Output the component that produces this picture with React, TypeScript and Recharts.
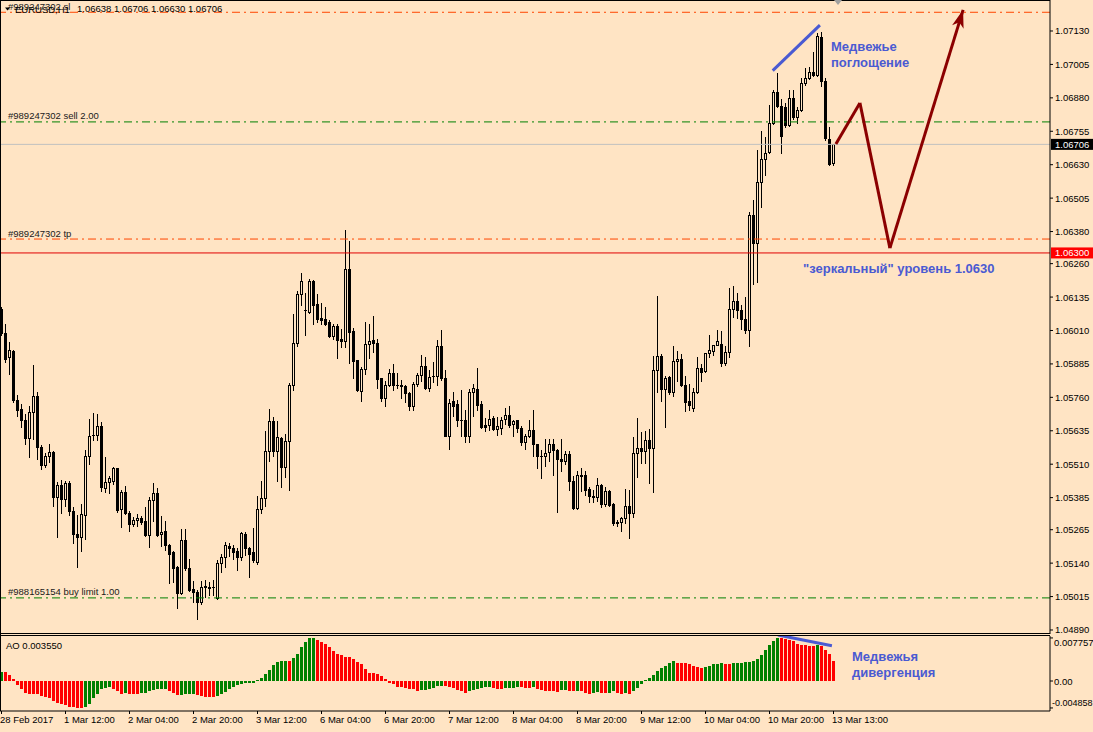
import React from 'react';
import { ComposedChart, Bar, Cell, XAxis, YAxis, ReferenceLine, ReferenceDot } from 'recharts';

// EURUSD H1, 28 Feb – 13 Mar 2017, one entry per bar
const OPEN = [
  1.06092, 1.05999, 1.05911, 1.05932, 1.05749, 1.05717, 1.05676, 1.05607, 1.05705, 1.05766,
  1.05576, 1.05507, 1.05541, 1.05556, 1.05386, 1.05432, 1.05380, 1.05439, 1.05336, 1.05249,
  1.05236, 1.05320, 1.05539, 1.05620, 1.05620, 1.05651, 1.05421, 1.05443, 1.05449, 1.05494,
  1.05342, 1.05407, 1.05329, 1.05286, 1.05301, 1.05310, 1.05296, 1.05246, 1.05377, 1.05404,
  1.05249, 1.05261, 1.05209, 1.05182, 1.05126, 1.05030, 1.05227, 1.05121, 1.05044, 1.05032,
  1.04995, 1.05051, 1.05048, 1.05051, 1.05011, 1.05139, 1.05164, 1.05204, 1.05195, 1.05185,
  1.05164, 1.05249, 1.05195, 1.05180, 1.05146, 1.05342, 1.05383, 1.05561, 1.05673, 1.05561,
  1.05608, 1.05501, 1.05596, 1.05807, 1.05964, 1.06146, 1.06086, 1.06079, 1.06194, 1.06108,
  1.06056, 1.06054, 1.06041, 1.05989, 1.06026, 1.05977, 1.05971, 1.06239, 1.06007, 1.05898,
  1.05783, 1.05867, 1.05961, 1.05973, 1.05964, 1.05831, 1.05757, 1.05807, 1.05852, 1.05807,
  1.05808, 1.05804, 1.05778, 1.05729, 1.05811, 1.05845, 1.05879, 1.05795, 1.05839, 1.05839,
  1.05951, 1.05834, 1.05617, 1.05745, 1.05734, 1.05676, 1.05676, 1.05615, 1.05781, 1.05792,
  1.05734, 1.05655, 1.05655, 1.05682, 1.05641, 1.05646, 1.05680, 1.05695, 1.05661, 1.05674,
  1.05646, 1.05592, 1.05615, 1.05639, 1.05584, 1.05542, 1.05540, 1.05554, 1.05586, 1.05564,
  1.05530, 1.05521, 1.05549, 1.05449, 1.05346, 1.05471, 1.05471, 1.05417, 1.05392, 1.05386,
  1.05434, 1.05361, 1.05411, 1.05361, 1.05293, 1.05293, 1.05309, 1.05353, 1.05326, 1.05553,
  1.05572, 1.05559, 1.05601, 1.05572, 1.05861, 1.05915, 1.05790, 1.05836, 1.05780, 1.05895,
  1.05905, 1.05808, 1.05745, 1.05720, 1.05781, 1.05868, 1.05859, 1.05924, 1.05934, 1.05957,
  1.05961, 1.05889, 1.05930, 1.06090, 1.06121, 1.06086, 1.06052, 1.06011, 1.06442, 1.06336,
  1.06565, 1.06652, 1.06677, 1.06786, 1.06900, 1.06849, 1.06846, 1.06777, 1.06881, 1.06809,
  1.06834, 1.06934, 1.06956, 1.06977, 1.06965, 1.07106, 1.06942, 1.06727, 1.06638,
];
const HIGH = [
  1.06099, 1.06036, 1.05967, 1.05936, 1.05767, 1.05736, 1.05696, 1.05726, 1.05880, 1.05780,
  1.05583, 1.05551, 1.05586, 1.05560, 1.05445, 1.05451, 1.05449, 1.05446, 1.05351, 1.05321,
  1.05361, 1.05564, 1.05680, 1.05701, 1.05699, 1.05667, 1.05536, 1.05464, 1.05499, 1.05497,
  1.05414, 1.05430, 1.05336, 1.05311, 1.05324, 1.05317, 1.05351, 1.05389, 1.05439, 1.05421,
  1.05317, 1.05299, 1.05211, 1.05185, 1.05128, 1.05267, 1.05266, 1.05155, 1.05074, 1.05040,
  1.05074, 1.05076, 1.05070, 1.05076, 1.05153, 1.05176, 1.05220, 1.05214, 1.05207, 1.05195,
  1.05257, 1.05257, 1.05201, 1.05270, 1.05392, 1.05448, 1.05633, 1.05717, 1.05686, 1.05673,
  1.05610, 1.05623, 1.05813, 1.06071, 1.06158, 1.06226, 1.06151, 1.06201, 1.06198, 1.06146,
  1.06113, 1.06096, 1.06048, 1.06036, 1.06033, 1.06017, 1.06386, 1.06346, 1.06021, 1.05900,
  1.05873, 1.06042, 1.06033, 1.06063, 1.05979, 1.05833, 1.05821, 1.05867, 1.05886, 1.05851,
  1.05823, 1.05808, 1.05780, 1.05817, 1.05852, 1.05917, 1.05911, 1.05861, 1.05892, 1.05976,
  1.06011, 1.05864, 1.05755, 1.05779, 1.05749, 1.05786, 1.05711, 1.05792, 1.05811, 1.05871,
  1.05745, 1.05682, 1.05714, 1.05689, 1.05686, 1.05686, 1.05719, 1.05726, 1.05676, 1.05676,
  1.05651, 1.05624, 1.05676, 1.05714, 1.05586, 1.05564, 1.05605, 1.05605, 1.05605, 1.05566,
  1.05605, 1.05561, 1.05561, 1.05467, 1.05486, 1.05496, 1.05486, 1.05426, 1.05414, 1.05459,
  1.05436, 1.05426, 1.05414, 1.05364, 1.05301, 1.05311, 1.05418, 1.05414, 1.05612, 1.05683,
  1.05630, 1.05636, 1.05643, 1.05914, 1.06139, 1.05921, 1.05839, 1.05839, 1.05951, 1.05934,
  1.05921, 1.05839, 1.05809, 1.05796, 1.05909, 1.05884, 1.05926, 1.05993, 1.05955, 1.06011,
  1.06008, 1.05951, 1.06170, 1.06177, 1.06152, 1.06106, 1.06136, 1.06452, 1.06499, 1.06684,
  1.06755, 1.06734, 1.06855, 1.06909, 1.06974, 1.06877, 1.06859, 1.06911, 1.06911, 1.06844,
  1.06956, 1.06990, 1.06996, 1.07052, 1.07121, 1.07127, 1.06956, 1.06771, 1.06706,
];
const LOW = [
  1.05992, 1.05892, 1.05849, 1.05742, 1.05692, 1.05649, 1.05586, 1.05536, 1.05605, 1.05530,
  1.05492, 1.05498, 1.05517, 1.05355, 1.05236, 1.05326, 1.05355, 1.05321, 1.05217, 1.05124,
  1.05186, 1.05232, 1.05511, 1.05602, 1.05599, 1.05411, 1.05405, 1.05401, 1.05436, 1.05330,
  1.05274, 1.05324, 1.05261, 1.05280, 1.05280, 1.05286, 1.05242, 1.05202, 1.05299, 1.05242,
  1.05205, 1.05189, 1.05065, 1.05070, 1.04971, 1.05024, 1.05114, 1.05036, 1.04996, 1.04930,
  1.04986, 1.05013, 1.05020, 1.05020, 1.05007, 1.05107, 1.05126, 1.05166, 1.05157, 1.05116,
  1.05153, 1.05170, 1.05089, 1.05145, 1.05138, 1.05329, 1.05354, 1.05523, 1.05542, 1.05448,
  1.05423, 1.05461, 1.05413, 1.05788, 1.05952, 1.06104, 1.05992, 1.06076, 1.06033, 1.06042,
  1.06036, 1.06029, 1.05986, 1.05979, 1.05908, 1.05948, 1.05948, 1.05888, 1.05833, 1.05783,
  1.05748, 1.05848, 1.05908, 1.05929, 1.05796, 1.05748, 1.05729, 1.05804, 1.05788, 1.05796,
  1.05758, 1.05742, 1.05711, 1.05711, 1.05802, 1.05821, 1.05790, 1.05784, 1.05817, 1.05805,
  1.05826, 1.05614, 1.05565, 1.05692, 1.05651, 1.05614, 1.05592, 1.05592, 1.05689, 1.05711,
  1.05646, 1.05636, 1.05639, 1.05639, 1.05621, 1.05624, 1.05661, 1.05649, 1.05615, 1.05630,
  1.05580, 1.05565, 1.05611, 1.05542, 1.05495, 1.05457, 1.05502, 1.05521, 1.05471, 1.05330,
  1.05486, 1.05511, 1.05415, 1.05343, 1.05343, 1.05411, 1.05396, 1.05367, 1.05367, 1.05374,
  1.05349, 1.05355, 1.05352, 1.05282, 1.05280, 1.05261, 1.05289, 1.05233, 1.05311, 1.05461,
  1.05514, 1.05514, 1.05439, 1.05405, 1.05780, 1.05746, 1.05649, 1.05774, 1.05764, 1.05822,
  1.05801, 1.05709, 1.05711, 1.05708, 1.05778, 1.05822, 1.05855, 1.05911, 1.05918, 1.05954,
  1.05876, 1.05880, 1.05910, 1.06059, 1.06056, 1.06015, 1.06002, 1.05952, 1.06184, 1.06190,
  1.06471, 1.06590, 1.06674, 1.06781, 1.06845, 1.06674, 1.06771, 1.06773, 1.06802, 1.06786,
  1.06831, 1.06927, 1.06952, 1.06961, 1.06961, 1.06924, 1.06724, 1.06627, 1.06630,
];
const CLOSE = [
  1.05999, 1.05905, 1.05936, 1.05749, 1.05714, 1.05674, 1.05609, 1.05707, 1.05766, 1.05576,
  1.05507, 1.05542, 1.05556, 1.05386, 1.05432, 1.05380, 1.05439, 1.05336, 1.05249, 1.05236,
  1.05324, 1.05539, 1.05617, 1.05621, 1.05651, 1.05424, 1.05445, 1.05457, 1.05494, 1.05340,
  1.05407, 1.05326, 1.05286, 1.05302, 1.05310, 1.05292, 1.05246, 1.05377, 1.05404, 1.05245,
  1.05257, 1.05209, 1.05176, 1.05121, 1.05030, 1.05227, 1.05120, 1.05040, 1.05032, 1.04995,
  1.05051, 1.05054, 1.05050, 1.05049, 1.05141, 1.05164, 1.05207, 1.05195, 1.05180, 1.05164,
  1.05251, 1.05195, 1.05176, 1.05151, 1.05342, 1.05383, 1.05561, 1.05673, 1.05561, 1.05613,
  1.05501, 1.05596, 1.05808, 1.05964, 1.06146, 1.06194, 1.06087, 1.06194, 1.06104, 1.06053,
  1.06051, 1.06036, 1.05989, 1.06026, 1.05976, 1.05971, 1.06239, 1.06004, 1.05896, 1.05786,
  1.05867, 1.05961, 1.05969, 1.05963, 1.05828, 1.05757, 1.05808, 1.05852, 1.05807, 1.05808,
  1.05802, 1.05776, 1.05729, 1.05811, 1.05844, 1.05879, 1.05795, 1.05836, 1.05840, 1.05951,
  1.05832, 1.05617, 1.05740, 1.05729, 1.05676, 1.05674, 1.05615, 1.05779, 1.05794, 1.05731,
  1.05649, 1.05649, 1.05680, 1.05641, 1.05651, 1.05677, 1.05695, 1.05655, 1.05670, 1.05645,
  1.05592, 1.05617, 1.05639, 1.05584, 1.05540, 1.05540, 1.05552, 1.05586, 1.05564, 1.05530,
  1.05521, 1.05549, 1.05446, 1.05346, 1.05471, 1.05466, 1.05415, 1.05390, 1.05386, 1.05434,
  1.05361, 1.05411, 1.05359, 1.05290, 1.05290, 1.05309, 1.05353, 1.05326, 1.05553, 1.05572,
  1.05559, 1.05599, 1.05572, 1.05864, 1.05915, 1.05793, 1.05834, 1.05780, 1.05895, 1.05903,
  1.05805, 1.05743, 1.05730, 1.05781, 1.05868, 1.05855, 1.05924, 1.05936, 1.05954, 1.05969,
  1.05889, 1.05930, 1.06090, 1.06121, 1.06086, 1.06052, 1.06011, 1.06442, 1.06336, 1.06565,
  1.06652, 1.06675, 1.06786, 1.06900, 1.06849, 1.06737, 1.06777, 1.06881, 1.06809, 1.06834,
  1.06934, 1.06956, 1.06977, 1.06965, 1.07111, 1.06942, 1.06731, 1.06631, 1.06706,
];

// Awesome Oscillator, same bars
const AO = [
  0.00170, 0.00168, 0.00113, 0.00038, -0.00076, -0.00151, -0.00224, -0.00228, -0.00231, -0.00234,
  -0.00277, -0.00280, -0.00302, -0.00353, -0.00397, -0.00416, -0.00435, -0.00460, -0.00470, -0.00480,
  -0.004858, -0.00473, -0.00410, -0.00315, -0.00227, -0.00151, -0.00126, -0.00113, -0.00151, -0.00189,
  -0.00227, -0.00214, -0.00229, -0.00231, -0.00233, -0.00215, -0.00208, -0.00189, -0.00170, -0.00151,
  -0.00147, -0.00140, -0.00176, -0.00214, -0.00246, -0.00244, -0.00242, -0.00240, -0.00238, -0.00250,
  -0.00265, -0.00283, -0.00290, -0.00292, -0.00265, -0.00227, -0.00202, -0.00151, -0.00113, -0.00076,
  -0.00057, -0.00038, -0.00036, -0.00034, 0.00019, 0.00057, 0.00120, 0.00195, 0.00284, 0.00340,
  0.00359, 0.00361, 0.00358, 0.00416, 0.00491, 0.00605, 0.00699, 0.00770, 0.007757, 0.00737,
  0.00699, 0.00662, 0.00611, 0.00548, 0.00485, 0.00460, 0.00435, 0.00432, 0.00397, 0.00347,
  0.00302, 0.00208, 0.00151, 0.00139, 0.00120, 0.00088, 0.00038, -0.00032, -0.00063, -0.00107,
  -0.00113, -0.00126, -0.00139, -0.00151, -0.00183, -0.00170, -0.00168, -0.00151, -0.00132, -0.00095,
  -0.00093, -0.00096, -0.00113, -0.00132, -0.00170, -0.00189, -0.00208, -0.00189, -0.00170, -0.00151,
  -0.00132, -0.00113, -0.00111, -0.00132, -0.00151, -0.00153, -0.00135, -0.00133, -0.00131, -0.00113,
  -0.00115, -0.00132, -0.00134, -0.00113, -0.00151, -0.00170, -0.00172, -0.00174, -0.00189, -0.00191,
  -0.00170, -0.00168, -0.00172, -0.00189, -0.00172, -0.00189, -0.00208, -0.00227, -0.00208, -0.00206,
  -0.00208, -0.00210, -0.00208, -0.00189, -0.00208, -0.00227, -0.00225, -0.00230, -0.00189, -0.00132,
  -0.00057, 0.00019, 0.00057, 0.00113, 0.00189, 0.00227, 0.00265, 0.00321, 0.00359, 0.00321,
  0.00319, 0.00317, 0.00302, 0.00265, 0.00246, 0.00227, 0.00246, 0.00265, 0.00302, 0.00304,
  0.00321, 0.00302, 0.00300, 0.00321, 0.00323, 0.00325, 0.00340, 0.00342, 0.00359, 0.00397,
  0.00472, 0.00567, 0.00643, 0.00718, 0.00775, 0.00772, 0.00756, 0.00737, 0.00718, 0.00662,
  0.00643, 0.00641, 0.00639, 0.00637, 0.00640, 0.00636, 0.00567, 0.00491, 0.00355,
];

const PRICE_TICKS = [
  1.07130, 1.07005, 1.06880, 1.06755, 1.06630, 1.06505, 1.06380, 1.06260, 1.06135, 1.06010,
  1.05885, 1.05760, 1.05635, 1.05510, 1.05385, 1.05265, 1.05140, 1.05015, 1.04890,
];
const AO_TICKS = [0.007757, 0, -0.004858];
const TIME_LABELS = [
  '28 Feb 2017', '1 Mar 12:00', '2 Mar 04:00', '2 Mar 20:00', '3 Mar 12:00', '6 Mar 04:00', '6 Mar 20:00',
  '7 Mar 12:00', '8 Mar 04:00', '8 Mar 20:00', '9 Mar 12:00', '10 Mar 04:00', '10 Mar 20:00', '13 Mar 13:00',
];
const TIME_TICKS = [0, 16, 32, 48, 64, 80, 96, 112, 128, 144, 160, 176, 192, 208];

// order lines and levels
const SL_LEVEL = 1.072;
const SELL_LEVEL = 1.0679;
const BID = 1.06706;
const TP_LEVEL = 1.06352;
const MIRROR_LEVEL = 1.063;
const BUY_LIMIT_LEVEL = 1.0501;

// hand-drawn objects, in bar index / price
const ENGULF_LINE = [{ x: 192.8, y: 1.06982 }, { x: 204.6, y: 1.07152 }];
const FORECAST = [
  { x: 208.6, y: 1.06707 },
  { x: 214.6, y: 1.06861 },
  { x: 222.1, y: 1.06318 },
  { x: 240.4, y: 1.07209 },
];
const DIVERGENCE_LINE = [{ x: 194.1, y: 0.00829 }, { x: 207.6, y: 0.00636 }];

const FONT = "'Liberation Sans', Arial, sans-serif";
const BG = '#FFE4C4';
const NOTE = '#4a5ad2';
const DASHDOT = '8 4 2 4';
const X_DOMAIN = [-0.375, 262.125];
const PRICE_DOMAIN = [1.04875, 1.072459];
const AO_DOMAIN = [-0.005405, 0.008108];

const candles = OPEN.map((o, i) => ({
  i,
  o,
  h: HIGH[i],
  l: LOW[i],
  c: CLOSE[i],
  range: [LOW[i], HIGH[i]],
}));
const aoData = AO.map((v, i) => ({ i, ao: v }));

function Candle(props: any) {
  const { x, y, width, height, payload } = props;
  if (x == null || y == null || !payload) return null;
  const top = Math.min(y, y + height);
  const span = Math.abs(height);
  const { o, h, l, c } = payload;
  const toY = (v: number) => (h > l ? top + ((h - v) / (h - l)) * span : top);
  const cx = Math.floor(x + width / 2) + 0.5;
  const yH = Math.round(toY(h));
  const yL = Math.round(toY(l));
  const bTop = Math.round(Math.min(toY(o), toY(c)));
  const bBot = Math.round(Math.max(toY(o), toY(c)));
  return (
    <g>
      <line x1={cx} x2={cx} y1={yH} y2={yL + 1} stroke="#000" strokeWidth={1} />
      {bBot - bTop < 1 ? (
        <line x1={cx - 1.5} x2={cx + 1.5} y1={bTop + 0.5} y2={bTop + 0.5} stroke="#000" strokeWidth={1} />
      ) : (
        <rect x={cx - 1} y={bTop + 0.5} width={2} height={bBot - bTop} fill={c > o ? BG : '#000'} stroke="#000" strokeWidth={1} />
      )}
    </g>
  );
}

function AoBar(props: any) {
  const { x, y, width, height, fill } = props;
  if (x == null || y == null || !height) return null;
  const cx = Math.floor(x + width / 2);
  const top = Math.round(Math.min(y, y + height));
  const bot = Math.round(Math.max(y, y + height));
  return <rect x={cx - 1} y={top} width={3} height={Math.max(bot - top, 1)} fill={fill} />;
}

function PriceTick(props: any) {
  const { x, y, payload } = props;
  return (
    <text x={x} y={y + 3.5} fontSize={9.5} fontFamily={FONT} fill="#000">
      {Number(payload.value).toFixed(5)}
    </text>
  );
}

function AoTick(props: any) {
  const { x, y, payload } = props;
  const v = Number(payload.value);
  const nudge = v > 0 ? 5 : v < 0 ? -5 : 0;
  return (
    <text x={v < 0 ? x - 3 : x - 1} y={y + 3.5 + nudge} fontSize={v < 0 ? 9 : 9.5} fontFamily={FONT} fill="#000">
      {v === 0 ? '0.00' : v.toFixed(6)}
    </text>
  );
}

function TimeTick(props: any) {
  const { x, y, payload } = props;
  const k = TIME_TICKS.indexOf(Number(payload.value));
  return (
    <text x={x - 1.5} y={y + 7} fontSize={9.5} fontFamily={FONT} fill="#000">
      {TIME_LABELS[k]}
    </text>
  );
}

const orderLabel = (text: string) => (props: any) => {
  const vb = props.viewBox || {};
  return (
    <text x={(vb.x ?? 0) + 8} y={(vb.y ?? 0) - 2.5} fontSize={9.5} fontFamily={FONT} fill="#1a1a1a">
      {text}
    </text>
  );
};

const priceBox = (text: string, bg: string) => (props: any) => {
  const vb = props.viewBox || {};
  const right = (vb.x ?? 0) + (vb.width ?? 0);
  const y = vb.y ?? 0;
  return (
    <g>
      <rect x={right + 1} y={y - 5.5} width={43} height={11} fill={bg} />
      <text x={right + 5} y={y + 3.5} fontSize={9.5} fontFamily={FONT} fill="#fff">
        {text}
      </text>
    </g>
  );
};

function ArrowHead(props: any) {
  const { cx, cy } = props;
  if (cx == null || cy == null) return null;
  return (
    <polygon
      points="0,0 -6,18 0,13 6,18"
      fill="#8b0000"
      transform={`translate(${cx},${cy}) rotate(17)`}
    />
  );
}

export default function App() {
  return (
    <div style={{ position: 'fixed', left: 0, top: 0, width: 1093, height: 732, background: BG, overflow: 'hidden' }}>
      <div style={{ position: 'absolute', left: 0, top: 0 }}>
        <ComposedChart width={1093} height={634} data={candles} margin={{ top: 0, right: 0, bottom: 0, left: 0 }}>
          <XAxis type="number" dataKey="i" domain={X_DOMAIN} allowDataOverflow hide />
          <YAxis
            orientation="right"
            domain={PRICE_DOMAIN}
            ticks={PRICE_TICKS}
            interval={0}
            allowDataOverflow
            width={43}
            tickSize={3}
            tickMargin={2}
            axisLine={{ stroke: '#000' }}
            tickLine={{ stroke: '#000' }}
            tick={<PriceTick />}
          />
          <ReferenceLine y={SL_LEVEL} stroke="#FF4500" strokeDasharray={DASHDOT} label={orderLabel('#989247302 sl')} />
          <ReferenceLine y={SELL_LEVEL} stroke="#008000" strokeDasharray={DASHDOT} label={orderLabel('#989247302 sell 2.00')} />
          <ReferenceLine y={BID} stroke="#C0C0C0" label={priceBox('1.06706', '#000')} />
          <ReferenceLine y={TP_LEVEL} stroke="#FF4500" strokeDasharray={DASHDOT} label={orderLabel('#989247302 tp')} />
          <ReferenceLine y={MIRROR_LEVEL} stroke="#E00000" label={priceBox('1.06300', '#FF0000')} />
          <ReferenceLine y={BUY_LIMIT_LEVEL} stroke="#008000" strokeDasharray={DASHDOT} label={orderLabel('#988165154 buy limit 1.00')} />
          <Bar dataKey="range" barSize={3} isAnimationActive={false} shape={(p: any) => <Candle {...p} />} />
          <ReferenceLine segment={ENGULF_LINE} stroke={NOTE} strokeWidth={3} />
          {FORECAST.slice(1).map((pt, k) => (
            <ReferenceLine key={k} segment={[FORECAST[k], pt]} stroke="#8b0000" strokeWidth={3} ifOverflow="visible" />
          ))}
          <ReferenceDot
            x={FORECAST[FORECAST.length - 1].x}
            y={FORECAST[FORECAST.length - 1].y}
            r={0}
            ifOverflow="visible"
            shape={(p: any) => <ArrowHead {...p} />}
          />
        </ComposedChart>
      </div>

      <div style={{ position: 'absolute', left: 0, top: 636 }}>
        <ComposedChart width={1093} height={96} data={aoData} margin={{ top: 0, right: 0, bottom: 0, left: 0 }}>
          <XAxis
            type="number"
            dataKey="i"
            domain={X_DOMAIN}
            allowDataOverflow
            ticks={TIME_TICKS}
            interval={0}
            height={21}
            tickSize={3}
            tickMargin={2}
            axisLine={{ stroke: '#000' }}
            tickLine={{ stroke: '#000' }}
            tick={<TimeTick />}
          />
          <YAxis
            orientation="right"
            domain={AO_DOMAIN}
            ticks={AO_TICKS}
            interval={0}
            allowDataOverflow
            width={43}
            tickSize={3}
            tickMargin={2}
            axisLine={{ stroke: '#000' }}
            tickLine={{ stroke: '#000' }}
            tick={<AoTick />}
          />
          <Bar dataKey="ao" barSize={3} isAnimationActive={false} shape={(p: any) => <AoBar {...p} />}>
            {AO.map((v, i) => (
              <Cell key={i} fill={i > 0 && v < AO[i - 1] ? '#FF0000' : '#008000'} />
            ))}
          </Bar>
          <ReferenceLine segment={DIVERGENCE_LINE} stroke={NOTE} strokeWidth={3} ifOverflow="visible" />
        </ComposedChart>
      </div>

      <svg width={1093} height={732} style={{ position: 'absolute', left: 0, top: 0, pointerEvents: 'none' }}>
        {/* window frames */}
        <line x1={0} x2={1050} y1={0.5} y2={0.5} stroke="#000" />
        <line x1={0.5} x2={0.5} y1={0} y2={711} stroke="#000" />
        <line x1={0} x2={1050} y1={633.5} y2={633.5} stroke="#000" />
        <line x1={0} x2={1050} y1={635.5} y2={635.5} stroke="#000" />
        <polygon points="834,0 842,0 838,5" fill="#a0a0a0" />

        {/* header */}
        <polygon points="5,7.5 10,7.5 7.5,10.5" fill="#000" />
        <text x={15} y={12.5} fontSize={9.5} fontFamily={FONT} fill="#000">EURUSD,H1</text>
        <text x={77} y={11.5} fontSize={9.5} fontFamily={FONT} fill="#000">1.06638 1.06706 1.06630 1.06706</text>
        <text x={6} y={649} fontSize={9.5} fontFamily={FONT} fill="#000">AO 0.003550</text>

        {/* notes */}
        <text x={831} y={51} fontSize={13} fontWeight="bold" fontFamily={FONT} fill={NOTE}>Медвежье</text>
        <text x={831} y={67} fontSize={13} fontWeight="bold" fontFamily={FONT} fill={NOTE}>поглощение</text>
        <text x={803} y={273} fontSize={13} fontWeight="bold" fontFamily={FONT} fill={NOTE}>"зеркальный" уровень 1.0630</text>
        <text x={852} y={661} fontSize={13} fontWeight="bold" fontFamily={FONT} fill={NOTE}>Медвежья</text>
        <text x={852} y={677} fontSize={13} fontWeight="bold" fontFamily={FONT} fill={NOTE}>дивергенция</text>
      </svg>
    </div>
  );
}
